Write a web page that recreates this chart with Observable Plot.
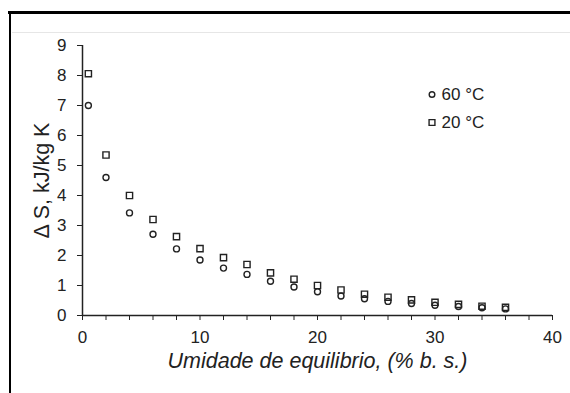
<!DOCTYPE html>
<html><head><meta charset="utf-8">
<script src="https://cdn.jsdelivr.net/npm/d3@7"></script>
<script src="https://cdn.jsdelivr.net/npm/@observablehq/plot@0.6"></script>
<style>
body{margin:0;background:#fff;}
#wrap{position:relative;width:570px;height:393px;overflow:hidden;font-family:"Liberation Sans",Arial,sans-serif;}
#wrap svg{position:absolute;left:0;top:0;}
.frameTop{position:absolute;left:8px;top:11px;width:562px;height:0;border-top:3px solid #000;}
.frameLeft{position:absolute;left:9px;top:11px;width:0;height:382px;border-left:2px solid #000;}
.sep{position:absolute;left:12px;top:32px;width:558px;height:0;border-top:1px solid #e6e6e6;}
</style></head><body><div id="wrap"></div>
<script>
const moisture = [0.5, 2, 4, 6, 8, 10, 12, 14, 16, 18, 20, 22, 24, 26, 28, 30, 32, 34, 36];
const s20 = [8.06, 5.35, 4.0, 3.2, 2.63, 2.23, 1.93, 1.7, 1.42, 1.21, 1.0, 0.85, 0.71, 0.61, 0.52, 0.44, 0.37, 0.31, 0.27];
const s60 = [7.0, 4.6, 3.42, 2.71, 2.22, 1.85, 1.58, 1.37, 1.14, 0.95, 0.79, 0.65, 0.56, 0.47, 0.4, 0.34, 0.3, 0.26, 0.22];
const seriesNames = ["60 °C", "20 °C"];
const yTicks = [0, 1, 2, 3, 4, 5, 6, 7, 8, 9];
const xMinorTicks = [0, 2, 4, 6, 8, 10, 12, 14, 16, 18, 20, 22, 24, 26, 28, 30, 32, 34, 36, 38, 40];
const xLabelTicks = [0, 10, 20, 30, 40];
const yTitle = "Δ S, kJ/kg K";
const xTitle = "Umidade de equilibrio, (% b. s.)";

const rows60 = moisture.map((m, i) => ({m, s: s60[i]}));
const rows20 = moisture.map((m, i) => ({m, s: s20[i]}));
const ink = "#222";
const font = "'Liberation Sans', Arial, sans-serif";

const chart = Plot.plot({
  width: 570, height: 393,
  marginLeft: 82, marginRight: 18, marginTop: 45, marginBottom: 78,
  style: {fontFamily: font, fontSize: "17px", color: ink, background: "transparent", overflow: "visible"},
  x: {domain: [0, 40]},
  y: {domain: [0, 9]},
  marks: [
    Plot.axisY({ticks: yTicks, tickSize: 5, tickPadding: 11, label: null, fontSize: 17}),
    Plot.axisX({ticks: xMinorTicks, tickSize: 5, tickFormat: () => "", label: null}),
    Plot.axisX({ticks: xLabelTicks, tickSize: 0, tickPadding: 15, label: null, fontSize: 17}),
    Plot.ruleY([0], {stroke: ink, strokeWidth: 1.5}),
    Plot.ruleX([0], {stroke: ink, strokeWidth: 1.5}),
    Plot.dot(rows60, {x: "m", y: "s", symbol: "circle", r: 3.0, stroke: ink, strokeWidth: 1.4, fill: "none"}),
    Plot.dot(rows20, {x: "m", y: "s", symbol: "square", r: 3.5, stroke: ink, strokeWidth: 1.4, fill: "none"}),
    Plot.text([yTitle], {frameAnchor: "left", rotate: -90, dx: -40, textAnchor: "middle", lineAnchor: "middle", fontSize: 21.5, fill: ink}),
    Plot.text([xTitle], {frameAnchor: "bottom", dy: 46, textAnchor: "middle", lineAnchor: "middle", fontSize: 21.5, fontStyle: "italic", fill: ink}),
    Plot.dot([seriesNames[0]], {frameAnchor: "top-right", dx: -120.5, dy: 49, symbol: "circle", r: 2.8, stroke: ink, strokeWidth: 1.4, fill: "none"}),
    Plot.dot([seriesNames[1]], {frameAnchor: "top-right", dx: -120.5, dy: 77, symbol: "square", r: 3.3, stroke: ink, strokeWidth: 1.4, fill: "none"}),
    Plot.text([seriesNames[0]], {frameAnchor: "top-right", dx: -111, dy: 49, textAnchor: "start", lineAnchor: "middle", fontSize: 17, fill: ink}),
    Plot.text([seriesNames[1]], {frameAnchor: "top-right", dx: -111, dy: 77, textAnchor: "start", lineAnchor: "middle", fontSize: 17, fill: ink})
  ]
});
const wrap = document.getElementById("wrap");
wrap.appendChild(chart);
for (const c of ["frameTop", "frameLeft", "sep"]) {
  const d = document.createElement("div"); d.className = c; wrap.appendChild(d);
}
</script></body></html>
